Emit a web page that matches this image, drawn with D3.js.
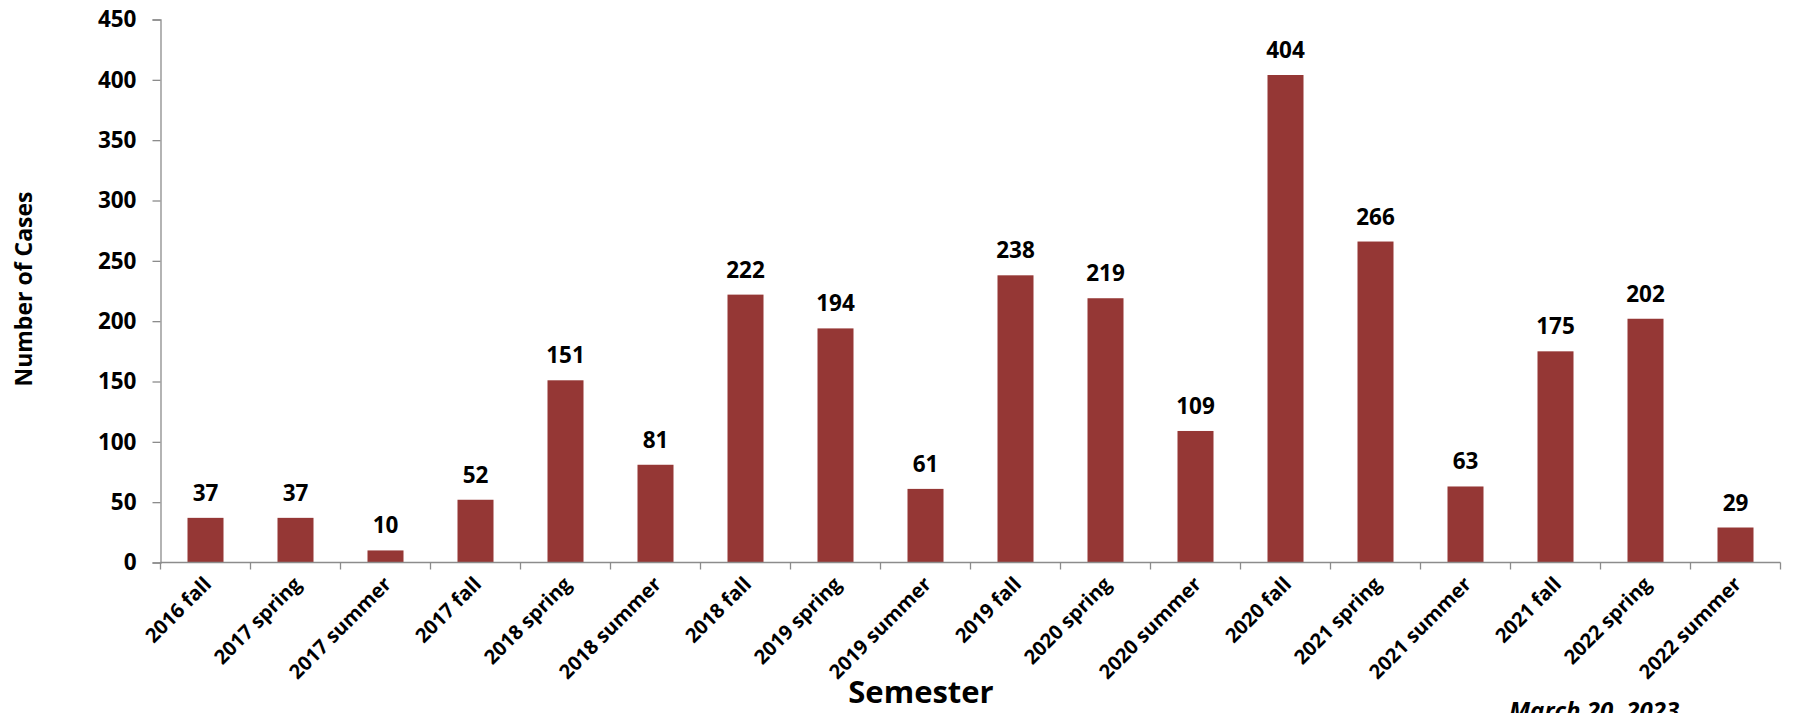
<!DOCTYPE html>
<html>
<head>
<meta charset="utf-8">
<script src="https://cdn.jsdelivr.net/npm/d3@7"></script>
<style>
  html, body { margin: 0; padding: 0; background: #fff; overflow: hidden; }
  svg { display: block; font-family: "Open Sans", Lato, sans-serif; font-weight: bold; }
</style>
</head>
<body>
<svg id="chart" width="1793" height="713"></svg>
<script>
const categories = ["2016 fall","2017 spring","2017 summer","2017 fall","2018 spring","2018 summer","2018 fall","2019 spring","2019 summer","2019 fall","2020 spring","2020 summer","2020 fall","2021 spring","2021 summer","2021 fall","2022 spring","2022 summer"];
const cases = [37,37,10,52,151,81,222,194,61,238,219,109,404,266,63,175,202,29];
const yTicks = [0,50,100,150,200,250,300,350,400,450];
const xTitle = "Semester";
const yTitle = "Number of Cases";
const dateNote = "March 20, 2023";

const svg = d3.select("#chart");
const m = {left: 160.5, right: 1780.5, top: 19.5, bottom: 562.5};
const axisColor = "#8c8c8c";
const barColor = "#953735";
const fontFam = "'Open Sans', Lato, sans-serif";

const x = d3.scaleBand().domain(categories).range([m.left, m.right]).paddingInner(0.6).paddingOuter(0.3);
const y = d3.scaleLinear().domain([0, 450]).range([m.bottom, m.top]);

// bars
svg.append("g").selectAll("rect").data(categories).join("rect")
  .attr("x", d => x(d))
  .attr("y", (d, i) => y(cases[i]))
  .attr("width", x.bandwidth())
  .attr("height", (d, i) => y(0) - y(cases[i]))
  .attr("fill", barColor);

// value labels
svg.append("g").selectAll("text").data(categories).join("text")
  .attr("x", d => x(d) + x.bandwidth() / 2)
  .attr("y", (d, i) => y(cases[i]) - 17)
  .attr("text-anchor", "middle")
  .attr("font-size", 22.5)
  .attr("fill", "#000")
  .text((d, i) => cases[i]);

// y axis
const yAxis = svg.append("g").attr("transform", `translate(${m.left},0)`)
  .call(d3.axisLeft(y).tickValues(yTicks).tickSize(8).tickPadding(16).tickFormat(d3.format("d")));
yAxis.select(".domain").attr("stroke", axisColor).attr("stroke-width", 1.3);
yAxis.selectAll(".tick line").attr("stroke", axisColor).attr("stroke-width", 1.3);
yAxis.selectAll(".tick text").attr("font-size", 22.5).attr("font-family", fontFam).attr("font-weight", "bold").attr("fill", "#000");

// x axis with ticks at band boundaries
const step = x.step();
const bounds = d3.range(categories.length + 1).map(i => m.left + i * step);
const xg = svg.append("g");
xg.append("line").attr("x1", m.left).attr("x2", m.right).attr("y1", y(0)).attr("y2", y(0))
  .attr("stroke", axisColor).attr("stroke-width", 1.3);
xg.selectAll("line.tk").data(bounds).join("line").attr("class", "tk")
  .attr("x1", d => d).attr("x2", d => d).attr("y1", y(0)).attr("y2", y(0) + 7)
  .attr("stroke", axisColor).attr("stroke-width", 1.3);
xg.selectAll("text").data(categories).join("text")
  .attr("transform", d => `translate(${x(d) + x.bandwidth() / 2 + 2},${y(0) + 18}) rotate(-45)`)
  .attr("text-anchor", "end")
  .attr("dy", "0.35em")
  .attr("font-size", 20)
  .attr("fill", "#000")
  .text(d => d);

// axis titles
svg.append("text").attr("x", 921).attr("y", 703).attr("text-anchor", "middle")
  .attr("font-size", 31).attr("fill", "#000").text(xTitle);
svg.append("text").attr("transform", "translate(24,289) rotate(-90)").attr("text-anchor", "middle")
  .attr("dy", "0.35em").attr("font-size", 23).attr("fill", "#000").text(yTitle);

// date note
svg.append("text").attr("x", 1509).attr("y", 719).attr("font-style", "italic")
  .attr("font-size", 24).attr("fill", "#000").text(dateNote);
</script>
</body>
</html>
